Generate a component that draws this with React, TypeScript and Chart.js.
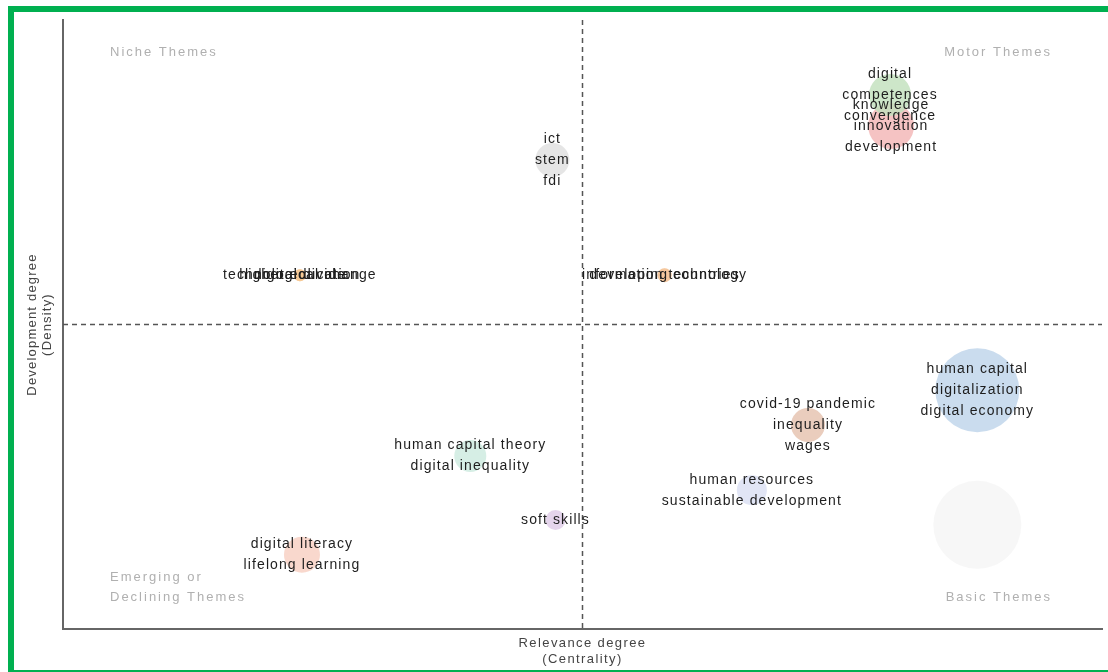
import React, { useEffect, useRef } from "react";
import { Chart, registerables } from "chart.js";

Chart.register(...registerables);

// Cluster data (centrality = x, density = y, size = bubble radius value)
const clusterCentrality = [88.0, 79.6, 79.7, 47.1, 22.8, 22.8, 22.8, 57.9, 57.9, 88.0, 71.7, 66.3, 39.2, 47.4, 23.0];
const clusterDensity = [17.1, 87.7, 82.6, 77.0, 58.1, 58.1, 58.1, 58.1, 58.1, 39.2, 33.5, 22.8, 28.4, 17.9, 12.2];
const clusterSize = [44, 21, 23, 17, 6, 6, 6, 7, 7, 42, 17, 15, 16, 10, 18];
const clusterLabels: string[][] = [
  [],
  ["digital", "competences", "convergence"],
  ["knowledge", "innovation", "development"],
  ["ict", "stem", "fdi"],
  ["technological change"],
  ["higher education"],
  ["digital divide"],
  ["information technology"],
  ["developing countries"],
  ["human capital", "digitalization", "digital economy"],
  ["covid-19 pandemic", "inequality", "wages"],
  ["human resources", "sustainable development"],
  ["human capital theory", "digital inequality"],
  ["soft skills"],
  ["digital literacy", "lifelong learning"],
];
const clusterColors = [
  "rgba(246,246,246,0.9)",
  "rgba(196,226,192,0.85)",
  "rgba(242,180,180,0.8)",
  "rgba(226,226,226,0.9)",
  "rgba(246,196,140,0.7)",
  "rgba(246,196,140,0.5)",
  "rgba(246,196,140,0.5)",
  "rgba(244,190,140,0.7)",
  "rgba(244,190,140,0.5)",
  "rgba(196,216,236,0.9)",
  "rgba(232,200,182,0.9)",
  "rgba(222,226,244,0.9)",
  "rgba(210,236,226,0.9)",
  "rgba(226,208,234,0.9)",
  "rgba(248,212,200,0.9)",
];

const quadrantNames = ["Niche Themes", "Motor Themes", "Emerging or", "Declining Themes", "Basic Themes"];
const xTitle = ["Relevance degree", "(Centrality)"];
const yTitle = ["Development degree", "(Density)"];
const midX = 50;
const midY = 50;

const LABEL_FONT = "14px 'Liberation Sans', Arial, sans-serif";
const FONT = "13px 'Liberation Sans', Arial, sans-serif";

const overlayPlugin = {
  id: "overlay",
  beforeDatasetsDraw(chart: any) {
    const { ctx, chartArea, scales } = chart;
    const px = scales.x.getPixelForValue(midX);
    const py = scales.y.getPixelForValue(midY);
    ctx.save();
    ctx.strokeStyle = "#555";
    ctx.lineWidth = 1.5;
    ctx.setLineDash([5, 4]);
    ctx.beginPath();
    ctx.moveTo(px, chartArea.top);
    ctx.lineTo(px, chartArea.bottom);
    ctx.moveTo(chartArea.left, py);
    ctx.lineTo(chartArea.right, py);
    ctx.stroke();
    ctx.setLineDash([]);

    // Quadrant names
    ctx.font = FONT;
    (ctx as any).letterSpacing = "2px";
    ctx.fillStyle = "#b0b0b0";
    ctx.textBaseline = "middle";
    ctx.textAlign = "left";
    ctx.fillText(quadrantNames[0], chartArea.left + 47, chartArea.top + 32);
    ctx.fillText(quadrantNames[2], chartArea.left + 47, chartArea.bottom - 52);
    ctx.fillText(quadrantNames[3], chartArea.left + 47, chartArea.bottom - 32);
    ctx.textAlign = "right";
    ctx.fillText(quadrantNames[1], chartArea.right - 50, chartArea.top + 32);
    ctx.fillText(quadrantNames[4], chartArea.right - 50, chartArea.bottom - 32);

    // Axis titles
    ctx.fillStyle = "#444";
    (ctx as any).letterSpacing = "1.4px";
    ctx.textAlign = "center";
    ctx.fillText(xTitle[0], px, chartArea.bottom + 14);
    ctx.fillText(xTitle[1], px, chartArea.bottom + 30);
    (ctx as any).letterSpacing = "1.2px";
    ctx.save();
    ctx.translate(chartArea.left - 31, py);
    ctx.rotate(-Math.PI / 2);
    ctx.fillText(yTitle[0], 0, 0);
    ctx.fillText(yTitle[1], 0, 15);
    ctx.restore();
    ctx.restore();
  },
  afterDatasetsDraw(chart: any) {
    const { ctx, scales } = chart;
    ctx.save();
    ctx.font = LABEL_FONT;
    (ctx as any).letterSpacing = "1.1px";
    ctx.fillStyle = "#1e1e1e";
    ctx.textAlign = "center";
    ctx.textBaseline = "middle";
    clusterLabels.forEach((labels, i) => {
      const cx = scales.x.getPixelForValue(clusterCentrality[i]);
      const cy = scales.y.getPixelForValue(clusterDensity[i]);
      const n = labels.length;
      labels.forEach((t, j) => {
        ctx.fillText(t, cx, cy + (j - (n - 1) / 2) * 21);
      });
    });
    ctx.restore();
  },
};

export default function App() {
  const ref = useRef<HTMLCanvasElement>(null);
  useEffect(() => {
    if (!ref.current) return;
    const datasets = clusterLabels.map((labels, i) => ({
      label: labels.join(", ") || "cluster",
      data: [{ x: clusterCentrality[i], y: clusterDensity[i], r: clusterSize[i] }],
      backgroundColor: clusterColors[i],
      borderWidth: 0,
    }));
    const chart = new Chart(ref.current, {
      type: "bubble",
      data: { datasets },
      options: {
        animation: false,
        responsive: false,
        layout: { autoPadding: false, padding: { left: 63, top: 20, right: 6, bottom: 43 } },
        plugins: { legend: { display: false }, tooltip: { enabled: false } },
        scales: {
          x: {
            min: 0,
            max: 100,
            grid: { display: false, drawTicks: false },
            ticks: { display: false },
            border: { display: true, color: "#666", width: 2 },
          },
          y: {
            min: 0,
            max: 100,
            grid: { display: false, drawTicks: false },
            ticks: { display: false },
            border: { display: true, color: "#666", width: 2 },
          },
        },
      },
      plugins: [overlayPlugin],
    });
    return () => chart.destroy();
  }, []);
  return (
    <div style={{ position: "fixed", left: 0, top: 0, width: 1108, height: 672, background: "#fff" }}>
      <canvas ref={ref} width={1108} height={672} style={{ position: "absolute", left: 0, top: 0 }} />
      <div
        style={{
          position: "absolute",
          left: 8,
          top: 6,
          width: 1100,
          height: 666,
          boxSizing: "border-box",
          borderLeft: "6px solid #00b050",
          borderTop: "6px solid #00b050",
          borderBottom: "2px solid #00b050",
          pointerEvents: "none",
        }}
      />
    </div>
  );
}
